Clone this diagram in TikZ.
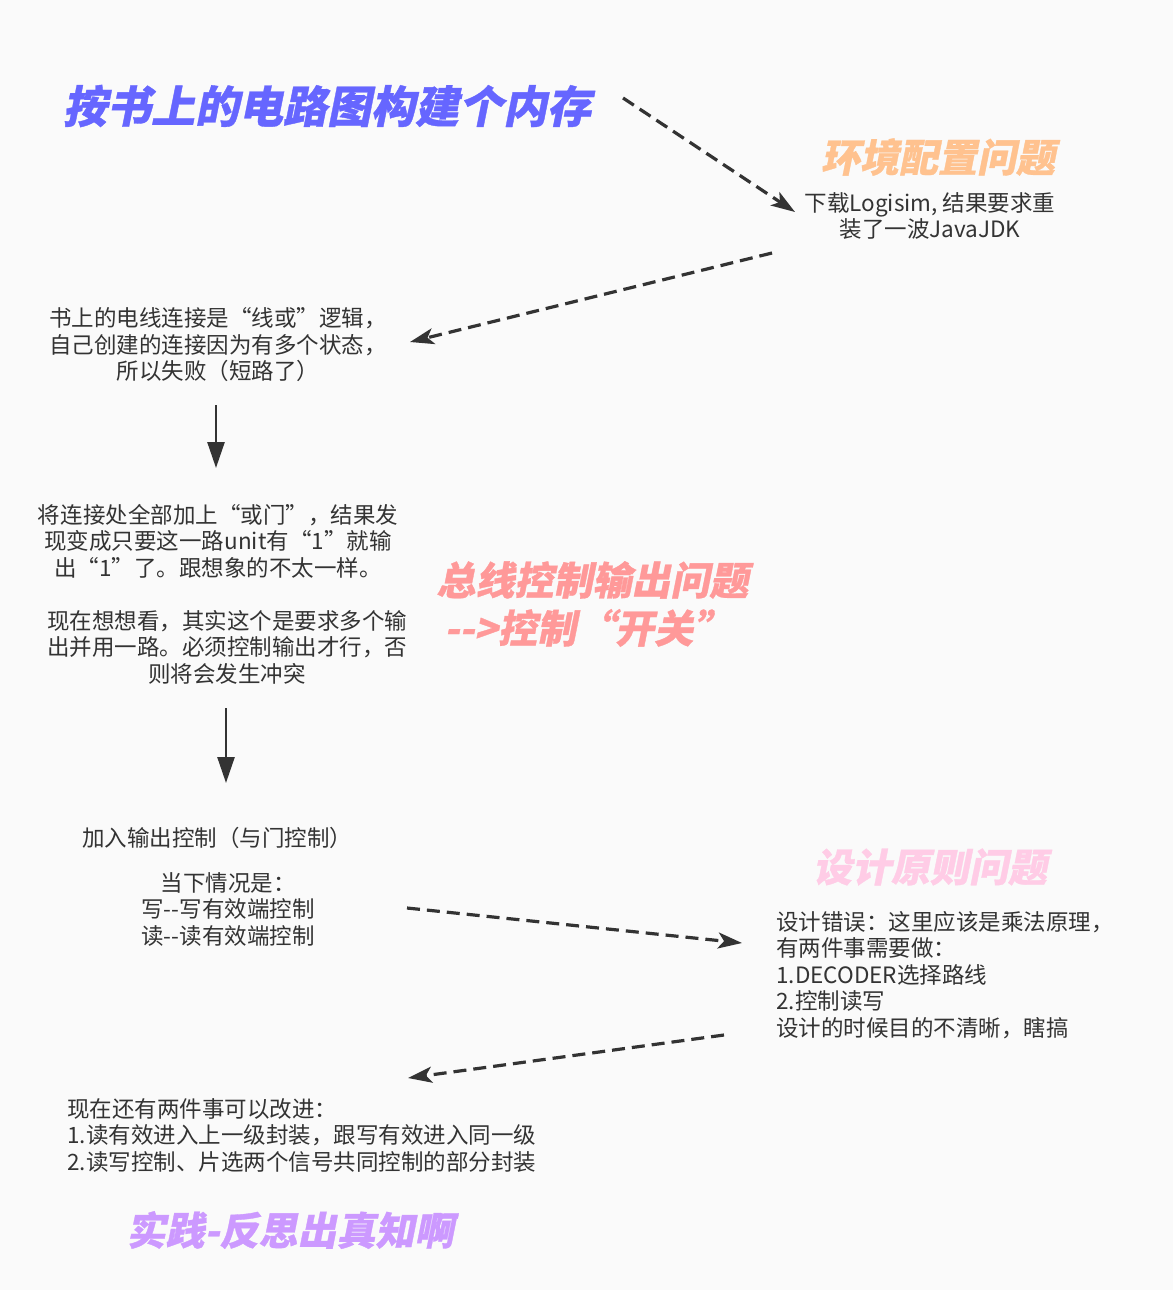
\documentclass[tikz,border=0pt]{standalone}
\usepackage{fontspec}
\setmainfont{Noto Sans CJK SC}
\newfontfamily\headfont[FakeSlant=0.2,BoldFeatures={FakeSlant=0.2,FakeBold=0.8}]{Noto Sans CJK SC}
\usetikzlibrary{arrows.meta,calc}
\definecolor{bg}{HTML}{FAFAFA}
\definecolor{txt}{HTML}{333333}
\definecolor{arr}{HTML}{333333}
\definecolor{cblue}{HTML}{6666FF}
\definecolor{corange}{HTML}{FFC28F}
\definecolor{cred}{HTML}{FF9999}
\definecolor{cpink}{HTML}{FFCCE6}
\definecolor{cpurple}{HTML}{CC99FF}
\begin{document}
\begin{tikzpicture}[x=0.5pt,y=-0.5pt,
  body/.style={text=txt, font=\fontsize{11.25}{13.25}\selectfont, inner sep=0pt},
  head/.style={font=\headfont\bfseries\fontsize{19.5}{24}\selectfont, inner sep=0pt},
  dasharrow/.style={draw=arr, line width=1.6pt, dash pattern=on 6.5pt off 3.5pt,
    -{Stealth[length=12pt,width=8pt,inset=3pt]}},
  solidarrow/.style={draw=arr, line width=1.3pt, -{Triangle[length=13pt,width=8.5pt]}}]
\fill[bg] (0,0) rectangle (1173,1290);
\useasboundingbox (0,0) rectangle (1173,1290);

% headings
\node[head, font=\headfont\bfseries\fontsize{22}{24}\selectfont, text=cblue] (title) at (327,106) {按书上的电路图构建个内存};
\node[head, text=corange] (henv) at (938,157) {环境配置问题};
\node[head, text=cred, align=left, anchor=west] (hbus) at (436,604) {总线控制输出问题\\\hspace{4pt}-{}->控制“开关”};
\node[head, text=cpink] (hdes) at (930,867) {设计原则问题};
\node[head, text=cpurple] (hpra) at (290,1230) {实践-反思出真知啊};

% body texts
\node[body, align=center] (n0) at (930,216) {下载Logisim, 结果要求重\\装了一波JavaJDK};
\node[body, align=center] (n1) at (218,345) {书上的电线连接是“线或”逻辑，\\自己创建的连接因为有多个状态，\\所以失败（短路了）};
\node[body, align=center] (n2a) at (218,541) {将连接处全部加上“或门”，结果发\\现变成只要这一路unit有“1”就输\\出“1”了。跟想象的不太一样。};
\node[body, align=center] (n2b) at (227,647) {现在想想看，其实这个是要求多个输\\出并用一路。必须控制输出才行，否\\则将会发生冲突};
\node[body] (n3a) at (217,838) {加入输出控制（与门控制）};
\node[body, align=center] (n3b) at (228,909) {当下情况是：\\写-{}-写有效端控制\\读-{}-读有效端控制};
\node[body, align=left, anchor=west] (n4) at (776,975) {设计错误：这里应该是乘法原理，\\有两件事需要做：\\1.DECODER选择路线\\2.控制读写\\设计的时候目的不清晰，瞎搞};
\node[body, align=left, anchor=west] (n5) at (67,1135) {现在还有两件事可以改进：\\1.读有效进入上一级封装，跟写有效进入同一级\\2.读写控制、片选两个信号共同控制的部分封装};

% connectors
\draw[dasharrow] ($(title)+(296,-8)$) -- ($(n0)+(-135,-4)$);
\draw[dasharrow] ($(n0)+(-158,37)$) -- ($(n1)+(192,-3)$);
\draw[solidarrow] ($(n1)+(-2,60)$) -- ($(n2a)+(-2,-73)$);
\draw[solidarrow] ($(n2b)+(-1,61)$) -- ($(n3a)+(9,-55)$);
\draw[dasharrow] ($(n3b)+(179,-1)$) -- ($(n4.west)+(-34,-32)$);
\draw[dasharrow] ($(n4.west)+(-52,60)$) -- ($(n5.west)+(341,-57)$);
\end{tikzpicture}
\end{document}
